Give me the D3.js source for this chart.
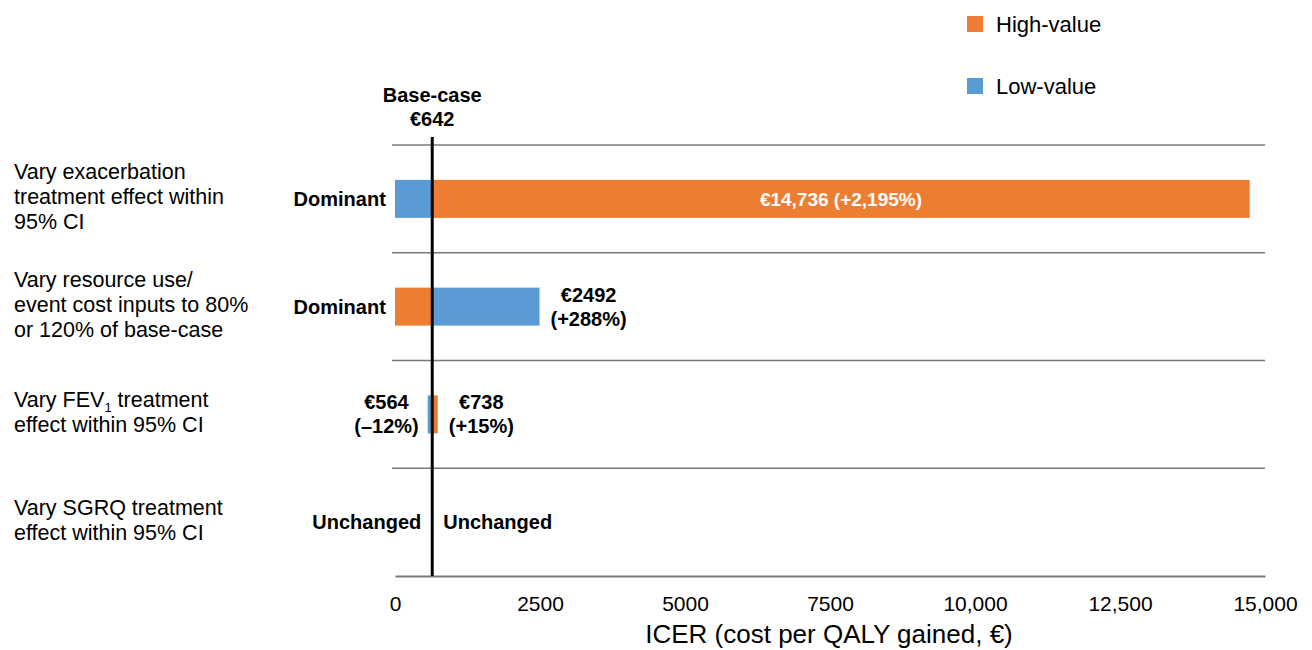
<!DOCTYPE html>
<html>
<head>
<meta charset="utf-8">
<script src="https://cdn.jsdelivr.net/npm/d3@7"></script>
<style>
  body { margin: 0; background: #fff; }
  svg { font-family: "Liberation Sans", Arial, Helvetica, sans-serif; }
</style>
</head>
<body>
<div id="chart"></div>
<script>
// categories (one entry per row, split into lines; "_1" marks a subscript)
const categories = [
  ['Vary exacerbation', 'treatment effect within', '95% CI'],
  ['Vary resource use/', 'event cost inputs to 80%', 'or 120% of base-case'],
  ['Vary FEV_1 treatment', 'effect within 95% CI'],
  ['Vary SGRQ treatment', 'effect within 95% CI']
];
const rowKeys = ['exacerbation', 'resource', 'fev1', 'sgrq'];
const baseCase = 642;
// "Dominant" is drawn down to 0, "Unchanged" equals the base case
const lowValues = [0, 2492, 564, 642];
const highValues = [14736, 0, 738, 642];
const lowLabels = [['Dominant'], ['€2492', '(+288%)'], ['€564', '(–12%)'], ['Unchanged']];
const highLabels = [['€14,736 (+2,195%)'], ['Dominant'], ['€738', '(+15%)'], ['Unchanged']];
const xTicks = [0, 2500, 5000, 7500, 10000, 12500, 15000];
const legendItems = ['High-value', 'Low-value'];

const width = 1312;
const height = 650;
const colors = { high: '#ED7D31', low: '#5B9BD5' };

const svg = d3.select('#chart').append('svg')
  .attr('width', width)
  .attr('height', height);

const x = d3.scaleLinear().domain([0, 15000]).range([395, 1265]);
const y = d3.scaleBand().domain(rowKeys).range([145, 576]);
const barH = 38;
const rowMid = k => y(k) + y.bandwidth() / 2;

// grid lines between rows
svg.append('g').selectAll('line')
  .data(rowKeys)
  .join('line')
  .attr('x1', 392)
  .attr('x2', 1265)
  .attr('y1', d => y(d))
  .attr('y2', d => y(d))
  .attr('stroke', '#7a7a7a')
  .attr('stroke-width', 1.5);

// x axis
const axis = svg.append('g')
  .attr('transform', 'translate(0,576)')
  .call(d3.axisBottom(x)
    .tickValues(xTicks)
    .tickSize(0)
    .tickPadding(20)
    .tickFormat(d => d >= 10000 ? d3.format(',')(d) : String(d)));
axis.select('.domain').attr('stroke', '#7a7a7a').attr('stroke-width', 2);
axis.selectAll('text')
  .attr('font-size', 21)
  .attr('fill', '#000')
  .attr('font-family', '"Liberation Sans", Arial, sans-serif');

svg.append('text')
  .attr('x', 829)
  .attr('y', 643)
  .attr('text-anchor', 'middle')
  .attr('font-size', 26)
  .text('ICER (cost per QALY gained, €)');

// bars
const rows = rowKeys.map((k, i) => ({
  key: k,
  low: lowValues[i],
  high: highValues[i],
  lowLabel: lowLabels[i],
  highLabel: highLabels[i]
}));

['low', 'high'].forEach(s => {
  svg.append('g').selectAll('rect')
    .data(rows)
    .join('rect')
    .attr('x', d => x(Math.min(d[s], baseCase)))
    .attr('width', d => Math.abs(x(d[s]) - x(baseCase)))
    .attr('y', d => rowMid(d.key) - barH / 2)
    .attr('height', barH)
    .attr('fill', colors[s]);
});

// bar labels
const labelG = svg.append('g')
  .attr('font-weight', 'bold')
  .attr('font-size', 20);

function placeLabel(row, s) {
  const v = row[s];
  const lines = row[s + 'Label'];
  const t = labelG.append('text').attr('text-anchor', 'middle');
  const lh = 24;
  const cy = rowMid(row.key);
  lines.forEach((ln, j) => {
    t.append('tspan')
      .attr('x', 0)
      .attr('y', cy + (j - (lines.length - 1) / 2) * lh)
      .attr('dy', '0.35em')
      .text(ln);
  });
  const w = t.node().getBBox().width;
  const span = Math.abs(x(v) - x(baseCase));
  let cx;
  if (span > 300) {
    cx = (x(v) + x(baseCase)) / 2;
    t.attr('fill', '#fff').attr('font-size', 19);
  } else if (v < baseCase || (v === baseCase && s === 'low')) {
    cx = x(v) - (v === baseCase ? 11 : 9) - w / 2;
  } else {
    cx = x(v) + 11 + w / 2;
  }
  t.selectAll('tspan').attr('x', cx);
}
rows.forEach(r => { placeLabel(r, 'low'); placeLabel(r, 'high'); });

// base-case line and title
svg.append('line')
  .attr('x1', x(baseCase))
  .attr('x2', x(baseCase))
  .attr('y1', 137)
  .attr('y2', 576)
  .attr('stroke', '#000')
  .attr('stroke-width', 3);

svg.append('text')
  .attr('x', x(baseCase))
  .attr('text-anchor', 'middle')
  .attr('font-weight', 'bold')
  .attr('font-size', 20)
  .selectAll('tspan')
  .data(['Base-case', '€' + baseCase])
  .join('tspan')
  .attr('x', x(baseCase))
  .attr('y', (d, i) => 95 + i * 24)
  .attr('dy', '0.35em')
  .text(d => d);

// category labels
const catG = svg.append('g').attr('font-size', 21.5);
categories.forEach((lines, i) => {
  const cy = rowMid(rowKeys[i]) - 2;
  const t = catG.append('text');
  lines.forEach((ln, j) => {
    const ty = cy + (j - (lines.length - 1) / 2) * 25;
    const parts = ln.split('_1');
    t.append('tspan').attr('x', 14).attr('y', ty).attr('dy', '0.35em').text(parts[0]);
    if (parts.length > 1) {
      t.append('tspan').attr('font-size', 13).attr('dy', 5).text('1');
      t.append('tspan').attr('dy', -5).text(parts[1]);
    }
  });
});

// legend
const legend = svg.append('g').selectAll('g')
  .data(legendItems)
  .join('g')
  .attr('transform', (d, i) => `translate(967,${24 + i * 62})`);
legend.append('rect')
  .attr('x', 0)
  .attr('y', -8)
  .attr('width', 16)
  .attr('height', 16)
  .attr('fill', (d, i) => i === 0 ? colors.high : colors.low);
legend.append('text')
  .attr('x', 29)
  .attr('dy', '0.35em')
  .attr('font-size', 22)
  .text(d => d);
</script>
</body>
</html>
